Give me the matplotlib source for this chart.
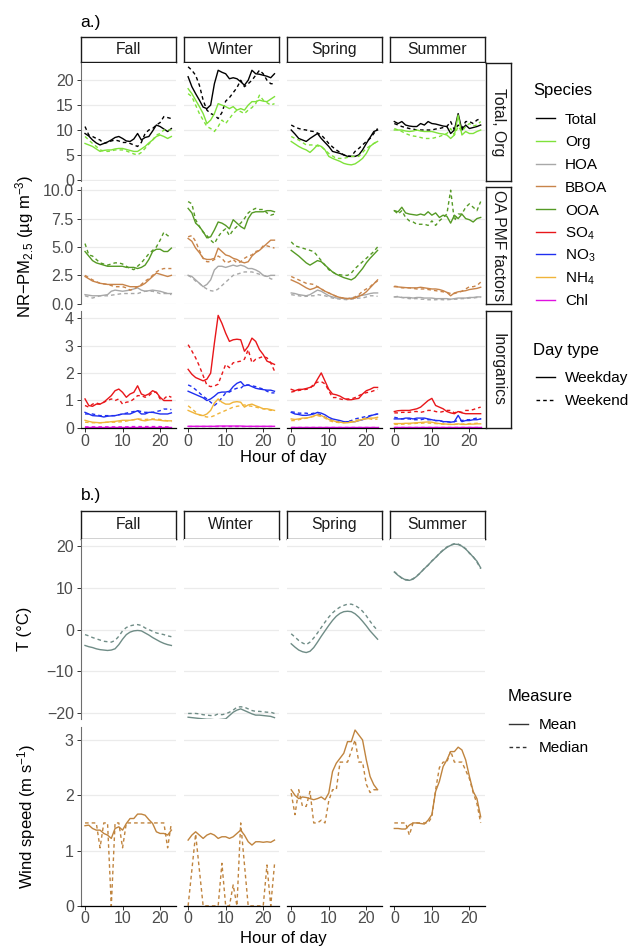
import matplotlib
matplotlib.use("Agg")
import matplotlib.pyplot as plt
from matplotlib.lines import Line2D

plt.rcParams['font.family'] = ['Liberation Sans', 'DejaVu Sans']
plt.rcParams['mathtext.fontset'] = 'custom'
plt.rcParams['mathtext.rm'] = 'Liberation Sans'
plt.rcParams['mathtext.it'] = 'Liberation Sans:italic'
plt.rcParams['mathtext.default'] = 'regular'

# ---------------- data ----------------
hours = list(range(24))
seasons = ['Fall', 'Winter', 'Spring', 'Summer']

# a.) row 1 : Total, Org   (wd = weekday, we = weekend)
fall_total_wd = [9.3, 8.8, 8.0, 7.4, 7.0, 7.3, 7.6, 8.0, 8.5, 8.7, 8.3, 7.8, 7.7, 8.2, 9.3, 8.0, 8.5, 8.7, 9.8, 11.0, 10.7, 10.2, 9.7, 10.3]
fall_total_we = [10.7, 9.0, 8.7, 8.3, 8.0, 7.3, 7.5, 7.8, 8.0, 7.8, 7.5, 7.5, 7.3, 7.0, 6.7, 7.5, 9.3, 10.0, 10.3, 11.0, 11.5, 12.7, 12.5, 12.3]
fall_org_wd = [7.3, 7.0, 6.7, 6.2, 5.7, 5.9, 6.0, 6.0, 6.2, 6.3, 6.3, 6.1, 5.9, 5.7, 5.7, 6.2, 6.7, 7.4, 8.0, 8.7, 9.0, 8.7, 8.3, 8.7]
fall_org_we = [8.7, 8.0, 7.3, 6.7, 6.0, 5.8, 5.7, 5.8, 6.0, 6.0, 6.0, 5.8, 5.5, 5.2, 5.0, 5.5, 6.3, 7.2, 8.0, 9.0, 9.3, 10.0, 10.0, 10.0]
winter_total_wd = [20.7, 18.7, 17.3, 16.0, 14.6, 14.3, 15.0, 19.3, 22.0, 21.6, 21.3, 20.3, 20.5, 20.3, 19.7, 19.0, 20.0, 22.0, 21.3, 21.2, 21.0, 20.8, 20.5, 21.3]
winter_total_we = [22.7, 22.0, 21.0, 19.0, 16.0, 14.0, 13.3, 13.0, 12.3, 13.5, 15.8, 16.5, 17.5, 18.5, 20.0, 18.7, 19.3, 20.0, 21.0, 22.0, 21.3, 20.0, 19.3, 19.3]
winter_org_wd = [18.3, 17.3, 16.0, 14.7, 13.3, 11.3, 12.0, 13.3, 15.3, 15.0, 14.7, 14.3, 14.7, 14.0, 14.3, 14.0, 15.0, 15.7, 15.7, 16.0, 15.8, 15.7, 16.2, 16.7]
winter_org_we = [17.3, 16.7, 15.0, 13.3, 12.0, 10.7, 10.3, 9.7, 10.7, 12.0, 11.3, 12.3, 13.3, 14.0, 13.7, 13.3, 14.0, 14.5, 15.3, 17.0, 16.0, 15.5, 15.0, 15.3]
spring_total_wd = [10.0, 9.2, 8.3, 8.0, 7.7, 8.3, 8.8, 9.3, 8.3, 7.5, 6.7, 5.7, 5.5, 5.3, 5.0, 4.7, 4.7, 4.7, 5.0, 6.0, 7.3, 8.5, 9.7, 10.0]
spring_total_we = [11.0, 10.6, 10.3, 10.1, 10.0, 9.8, 9.7, 9.4, 9.0, 8.2, 7.3, 6.6, 6.0, 5.5, 5.0, 4.8, 4.7, 5.7, 6.3, 7.0, 7.7, 8.3, 9.3, 10.3]
spring_org_wd = [7.7, 7.2, 6.7, 6.3, 6.0, 5.5, 6.2, 7.0, 6.7, 6.0, 4.7, 4.3, 4.0, 3.7, 3.3, 3.1, 3.0, 3.2, 3.7, 4.3, 5.3, 6.7, 7.3, 7.7]
spring_org_we = [8.7, 8.3, 8.0, 7.5, 7.0, 7.0, 7.0, 6.8, 6.7, 6.0, 5.3, 4.8, 4.3, 4.3, 4.3, 4.5, 4.7, 4.7, 4.7, 5.5, 6.3, 6.8, 7.3, 7.7]
summer_total_wd = [11.7, 11.3, 11.7, 11.0, 10.8, 10.7, 10.7, 11.3, 11.0, 11.7, 11.3, 11.2, 11.0, 10.8, 10.7, 9.3, 10.0, 13.3, 10.0, 11.0, 10.3, 10.5, 10.7, 11.0]
summer_total_we = [11.3, 11.0, 10.7, 10.5, 10.3, 10.2, 10.0, 10.0, 10.0, 10.0, 10.0, 10.2, 10.3, 10.5, 10.7, 11.7, 10.0, 11.0, 10.3, 11.7, 11.7, 11.3, 12.0, 12.3]
summer_org_wd = [10.0, 10.0, 10.0, 9.8, 9.7, 9.8, 10.0, 9.8, 9.7, 9.7, 9.7, 9.5, 9.3, 9.2, 9.0, 8.3, 9.0, 13.0, 9.0, 9.7, 9.3, 9.3, 9.7, 10.0]
summer_org_we = [10.3, 10.0, 9.7, 9.3, 9.0, 8.8, 8.7, 8.5, 8.3, 8.3, 8.3, 8.5, 8.7, 9.0, 9.3, 10.3, 9.0, 10.7, 9.7, 10.7, 11.3, 10.8, 11.0, 11.7]

# a.) row 2 : OA PMF factors
fall_hoa_wd = [0.8, 0.75, 0.7, 0.7, 0.7, 0.75, 0.8, 1.1, 1.2, 1.15, 1.1, 1.15, 1.2, 1.3, 1.4, 1.2, 1.1, 1.15, 1.2, 1.15, 1.1, 1.0, 0.9, 0.9]
fall_hoa_we = [0.7, 0.6, 0.5, 0.6, 0.7, 0.7, 0.7, 0.75, 0.8, 0.85, 0.9, 0.9, 0.9, 0.9, 0.9, 1.0, 1.1, 1.1, 1.1, 1.0, 0.9, 0.9, 0.9, 0.8]
fall_bboa_wd = [2.4, 2.2, 2.0, 1.9, 1.8, 1.75, 1.7, 1.7, 1.7, 1.7, 1.7, 1.6, 1.5, 1.5, 1.5, 1.6, 1.8, 2.1, 2.4, 2.7, 2.6, 2.5, 2.4, 2.5]
fall_bboa_we = [2.5, 2.3, 2.1, 1.95, 1.8, 1.75, 1.7, 1.6, 1.5, 1.5, 1.5, 1.4, 1.2, 1.3, 1.5, 1.7, 2.0, 2.2, 2.5, 2.8, 3.0, 3.1, 3.1, 3.1]
fall_ooa_wd = [4.6, 4.2, 3.8, 3.6, 3.5, 3.4, 3.3, 3.3, 3.3, 3.3, 3.3, 3.2, 3.2, 3.2, 3.1, 3.2, 3.4, 3.9, 4.6, 4.8, 4.8, 4.6, 4.6, 4.9]
fall_ooa_we = [5.3, 4.3, 4.2, 3.9, 3.6, 3.5, 3.4, 3.5, 3.6, 3.6, 3.5, 3.3, 3.1, 3.0, 3.3, 3.6, 4.0, 4.4, 4.7, 5.0, 5.6, 6.3, 6.0, 5.9]
winter_hoa_wd = [2.5, 2.4, 2.1, 1.8, 1.5, 1.7, 2.1, 2.98, 3.3, 3.3, 3.2, 3.3, 3.4, 3.3, 3.4, 3.3, 3.1, 3.1, 2.98, 2.8, 2.5, 2.4, 2.5, 2.5]
winter_hoa_we = [2.5, 2.3, 2.0, 1.8, 1.5, 1.3, 1.15, 1.1, 1.3, 1.6, 1.9, 2.2, 2.5, 2.6, 2.7, 2.8, 2.8, 2.8, 2.7, 2.6, 2.5, 2.4, 2.2, 2.1]
winter_bboa_wd = [5.75, 5.5, 4.9, 4.5, 4.0, 3.9, 3.9, 4.0, 4.9, 4.6, 4.3, 4.2, 4.0, 3.9, 3.7, 3.6, 3.7, 4.2, 4.5, 4.7, 5.0, 5.3, 5.6, 5.6]
winter_bboa_we = [5.9, 6.0, 5.5, 4.7, 4.0, 3.7, 3.7, 3.9, 4.2, 4.0, 3.6, 3.7, 3.9, 3.6, 3.7, 4.0, 4.2, 4.3, 4.6, 4.7, 5.1, 5.1, 5.0, 4.9]
winter_ooa_wd = [8.4, 8.0, 7.1, 6.8, 6.35, 5.8, 5.9, 6.5, 7.2, 7.1, 6.9, 6.6, 7.4, 7.1, 6.8, 6.6, 7.5, 8.0, 8.1, 8.1, 8.1, 8.2, 8.2, 8.1]
winter_ooa_we = [9.0, 8.8, 7.4, 6.8, 6.3, 6.0, 5.6, 5.3, 5.9, 6.35, 6.6, 6.0, 6.5, 6.8, 7.1, 7.5, 8.0, 8.25, 8.4, 8.3, 8.3, 8.0, 7.8, 7.9]
spring_hoa_wd = [0.95, 0.9, 0.8, 0.75, 0.7, 0.8, 1.0, 1.2, 1.1, 0.9, 0.7, 0.6, 0.5, 0.5, 0.45, 0.45, 0.5, 0.55, 0.7, 0.75, 0.8, 0.9, 0.95, 0.95]
spring_hoa_we = [0.8, 0.75, 0.7, 0.65, 0.65, 0.7, 0.7, 0.8, 0.75, 0.7, 0.6, 0.5, 0.45, 0.4, 0.38, 0.35, 0.4, 0.45, 0.5, 0.5, 0.6, 0.7, 0.7, 0.65]
spring_bboa_wd = [2.1, 1.95, 1.8, 1.6, 1.4, 1.25, 1.35, 1.5, 1.3, 1.1, 0.95, 0.8, 0.65, 0.55, 0.5, 0.45, 0.45, 0.5, 0.65, 0.8, 1.05, 1.4, 1.75, 2.1]
spring_bboa_we = [2.4, 2.25, 2.1, 1.95, 1.8, 1.75, 1.7, 1.5, 1.3, 1.1, 0.95, 0.8, 0.65, 0.55, 0.5, 0.45, 0.5, 0.6, 0.8, 1.1, 1.3, 1.5, 1.8, 2.0]
spring_ooa_wd = [4.7, 4.45, 4.2, 3.9, 3.6, 3.4, 3.6, 3.8, 3.7, 3.4, 3.1, 2.8, 2.6, 2.45, 2.3, 2.2, 2.1, 2.3, 2.7, 3.1, 3.6, 4.0, 4.35, 4.7]
spring_ooa_we = [5.45, 5.1, 5.0, 4.9, 4.8, 4.7, 4.6, 4.2, 3.8, 3.4, 3.0, 2.8, 2.6, 2.55, 2.5, 2.5, 2.7, 3.1, 3.4, 3.7, 4.0, 4.3, 4.6, 5.0]
summer_hoa_wd = [0.6, 0.6, 0.55, 0.55, 0.55, 0.5, 0.55, 0.55, 0.5, 0.5, 0.5, 0.45, 0.45, 0.45, 0.45, 0.4, 0.45, 0.5, 0.5, 0.5, 0.55, 0.55, 0.6, 0.6]
summer_hoa_we = [0.6, 0.65, 0.55, 0.5, 0.45, 0.45, 0.45, 0.4, 0.4, 0.35, 0.35, 0.35, 0.38, 0.35, 0.35, 0.38, 0.4, 0.4, 0.45, 0.45, 0.5, 0.5, 0.55, 0.55]
summer_bboa_wd = [1.5, 1.48, 1.45, 1.42, 1.4, 1.4, 1.4, 1.45, 1.4, 1.35, 1.3, 1.3, 1.25, 1.15, 1.0, 0.7, 0.95, 1.05, 1.1, 1.15, 1.25, 1.3, 1.35, 1.45]
summer_bboa_we = [1.55, 1.5, 1.4, 1.4, 1.4, 1.35, 1.3, 1.3, 1.3, 1.25, 1.2, 1.15, 1.1, 1.05, 1.0, 0.9, 0.9, 1.0, 1.1, 1.3, 1.5, 1.5, 1.6, 1.9]
summer_ooa_wd = [8.2, 8.1, 8.5, 8.0, 7.9, 7.85, 7.8, 7.9, 7.8, 8.1, 7.8, 8.0, 7.6, 7.8, 7.7, 7.1, 7.8, 7.5, 7.9, 7.5, 7.4, 7.2, 7.5, 7.6]
summer_ooa_we = [8.2, 7.9, 8.2, 7.6, 7.3, 7.2, 7.0, 7.0, 7.0, 6.9, 7.3, 6.9, 7.3, 7.6, 7.9, 10.0, 7.3, 7.9, 7.9, 8.5, 8.8, 8.5, 8.2, 9.0]

# a.) row 3 : Inorganics
fall_so4_wd = [1.05, 0.81, 0.78, 0.86, 0.86, 0.93, 1.05, 1.17, 1.35, 1.41, 1.29, 1.11, 1.23, 1.29, 1.53, 1.23, 1.17, 1.23, 1.35, 1.29, 1.11, 0.99, 0.99, 0.99]
fall_so4_we = [0.81, 0.75, 0.86, 0.9, 0.86, 0.93, 0.99, 1.05, 0.99, 1.05, 0.86, 0.93, 0.95, 1.05, 1.17, 1.17, 1.11, 1.17, 1.29, 1.29, 1.05, 1.05, 1.17, 1.11]
fall_no3_wd = [0.56, 0.5, 0.44, 0.43, 0.42, 0.39, 0.42, 0.43, 0.44, 0.47, 0.5, 0.5, 0.5, 0.56, 0.62, 0.5, 0.5, 0.56, 0.56, 0.53, 0.5, 0.5, 0.5, 0.54]
fall_no3_we = [0.5, 0.5, 0.5, 0.47, 0.44, 0.44, 0.44, 0.44, 0.44, 0.47, 0.5, 0.53, 0.56, 0.59, 0.62, 0.59, 0.56, 0.56, 0.56, 0.59, 0.62, 0.68, 0.68, 0.66]
fall_nh4_wd = [0.27, 0.23, 0.2, 0.19, 0.18, 0.19, 0.2, 0.22, 0.23, 0.25, 0.27, 0.27, 0.27, 0.29, 0.32, 0.27, 0.25, 0.28, 0.3, 0.28, 0.27, 0.25, 0.25, 0.25]
fall_nh4_we = [0.2, 0.19, 0.18, 0.18, 0.18, 0.19, 0.2, 0.2, 0.2, 0.21, 0.22, 0.24, 0.27, 0.29, 0.32, 0.31, 0.3, 0.31, 0.32, 0.31, 0.3, 0.27, 0.25, 0.22]
fall_chl_wd = [0.03, 0.03, 0.03, 0.03, 0.03, 0.03, 0.03, 0.03, 0.03, 0.03, 0.03, 0.03, 0.03, 0.03, 0.03, 0.03, 0.03, 0.03, 0.03, 0.03, 0.03, 0.03, 0.03, 0.03]
fall_chl_we = [0.03, 0.03, 0.03, 0.03, 0.03, 0.03, 0.03, 0.03, 0.03, 0.03, 0.03, 0.03, 0.04, 0.04, 0.04, 0.04, 0.04, 0.04, 0.04, 0.04, 0.04, 0.03, 0.03, 0.03]
winter_so4_wd = [2.13, 1.95, 1.83, 1.77, 1.71, 1.77, 1.99, 3.09, 4.1, 3.81, 3.45, 3.15, 3.21, 3.23, 3.21, 2.79, 2.97, 3.27, 3.15, 2.85, 2.67, 2.43, 2.37, 2.31]
winter_so4_we = [3.03, 2.8, 2.55, 2.25, 1.9, 1.55, 1.5, 1.52, 1.59, 1.95, 2.31, 2.19, 2.37, 2.4, 2.43, 2.5, 2.85, 2.37, 2.5, 2.55, 2.6, 2.55, 2.37, 2.07]
winter_no3_wd = [1.33, 1.27, 1.21, 1.15, 1.09, 0.99, 1.05, 1.15, 1.27, 1.3, 1.3, 1.33, 1.5, 1.62, 1.68, 1.53, 1.56, 1.5, 1.44, 1.41, 1.39, 1.37, 1.37, 1.33]
winter_no3_we = [1.56, 1.5, 1.39, 1.27, 1.15, 1.05, 0.93, 0.81, 0.93, 1.09, 1.27, 1.3, 1.39, 1.44, 1.44, 1.56, 1.56, 1.53, 1.5, 1.45, 1.41, 1.33, 1.27, 1.27]
winter_nh4_wd = [0.63, 0.57, 0.51, 0.47, 0.44, 0.5, 0.63, 0.9, 1.05, 0.93, 0.86, 0.86, 0.93, 0.95, 0.93, 0.75, 0.83, 0.86, 0.8, 0.75, 0.69, 0.69, 0.66, 0.63]
winter_nh4_we = [0.8, 0.69, 0.57, 0.47, 0.42, 0.39, 0.39, 0.44, 0.51, 0.57, 0.63, 0.69, 0.75, 0.78, 0.8, 0.83, 0.8, 0.78, 0.75, 0.72, 0.69, 0.67, 0.63, 0.66]
winter_chl_wd = [0.05, 0.05, 0.05, 0.05, 0.05, 0.05, 0.05, 0.05, 0.06, 0.06, 0.06, 0.06, 0.06, 0.06, 0.06, 0.05, 0.05, 0.05, 0.05, 0.05, 0.05, 0.05, 0.05, 0.05]
winter_chl_we = [0.05, 0.05, 0.05, 0.05, 0.05, 0.05, 0.05, 0.05, 0.05, 0.05, 0.05, 0.05, 0.05, 0.05, 0.05, 0.05, 0.05, 0.05, 0.05, 0.05, 0.05, 0.05, 0.05, 0.05]
spring_so4_wd = [1.4, 1.35, 1.4, 1.4, 1.43, 1.47, 1.53, 1.77, 2.0, 1.7, 1.4, 1.23, 1.2, 1.15, 1.07, 1.02, 1.02, 1.05, 1.07, 1.23, 1.35, 1.4, 1.47, 1.47]
spring_so4_we = [1.3, 1.33, 1.36, 1.38, 1.4, 1.43, 1.6, 1.66, 1.68, 1.6, 1.35, 1.1, 1.1, 1.05, 1.02, 1.05, 1.05, 1.1, 1.17, 1.23, 1.28, 1.3, 1.35, 1.4]
spring_no3_wd = [0.56, 0.5, 0.48, 0.45, 0.45, 0.47, 0.5, 0.56, 0.53, 0.47, 0.38, 0.32, 0.29, 0.26, 0.22, 0.22, 0.22, 0.22, 0.26, 0.29, 0.35, 0.43, 0.47, 0.5]
spring_no3_we = [0.58, 0.56, 0.53, 0.53, 0.53, 0.5, 0.53, 0.5, 0.47, 0.38, 0.32, 0.26, 0.22, 0.2, 0.2, 0.22, 0.26, 0.32, 0.35, 0.38, 0.41, 0.44, 0.47, 0.5]
spring_nh4_wd = [0.32, 0.3, 0.32, 0.35, 0.35, 0.38, 0.43, 0.47, 0.44, 0.38, 0.3, 0.26, 0.22, 0.2, 0.18, 0.18, 0.2, 0.22, 0.26, 0.3, 0.32, 0.35, 0.35, 0.38]
spring_nh4_we = [0.26, 0.26, 0.29, 0.32, 0.35, 0.38, 0.41, 0.44, 0.41, 0.35, 0.26, 0.22, 0.2, 0.18, 0.18, 0.2, 0.22, 0.26, 0.29, 0.32, 0.35, 0.32, 0.29, 0.32]
spring_chl_wd = [0.02, 0.02, 0.02, 0.02, 0.02, 0.02, 0.02, 0.02, 0.02, 0.02, 0.02, 0.02, 0.02, 0.02, 0.02, 0.02, 0.02, 0.02, 0.02, 0.02, 0.02, 0.02, 0.02, 0.02]
spring_chl_we = [0.02, 0.02, 0.02, 0.02, 0.02, 0.02, 0.02, 0.02, 0.02, 0.02, 0.02, 0.02, 0.02, 0.02, 0.02, 0.02, 0.02, 0.02, 0.02, 0.02, 0.02, 0.02, 0.02, 0.02]
summer_so4_wd = [0.59, 0.62, 0.63, 0.63, 0.63, 0.66, 0.69, 0.75, 0.87, 0.99, 1.07, 0.81, 0.75, 0.69, 0.59, 0.54, 0.51, 0.59, 0.54, 0.51, 0.51, 0.51, 0.51, 0.51]
summer_so4_we = [0.54, 0.54, 0.56, 0.56, 0.56, 0.59, 0.59, 0.56, 0.59, 0.63, 0.63, 0.59, 0.56, 0.59, 0.63, 0.63, 0.54, 0.59, 0.56, 0.63, 0.63, 0.66, 0.71, 0.75]
summer_no3_wd = [0.32, 0.32, 0.32, 0.35, 0.35, 0.32, 0.35, 0.35, 0.35, 0.32, 0.29, 0.26, 0.26, 0.22, 0.22, 0.2, 0.22, 0.45, 0.22, 0.26, 0.26, 0.29, 0.29, 0.32]
summer_no3_we = [0.38, 0.35, 0.32, 0.32, 0.32, 0.29, 0.29, 0.29, 0.32, 0.29, 0.29, 0.26, 0.26, 0.22, 0.22, 0.2, 0.22, 0.26, 0.26, 0.29, 0.29, 0.32, 0.35, 0.32]
summer_nh4_wd = [0.15, 0.15, 0.15, 0.16, 0.16, 0.17, 0.18, 0.19, 0.2, 0.21, 0.2, 0.17, 0.15, 0.14, 0.13, 0.12, 0.12, 0.14, 0.12, 0.12, 0.13, 0.13, 0.14, 0.14]
summer_nh4_we = [0.12, 0.12, 0.13, 0.13, 0.14, 0.15, 0.16, 0.16, 0.17, 0.17, 0.16, 0.15, 0.14, 0.13, 0.12, 0.12, 0.12, 0.13, 0.13, 0.14, 0.15, 0.15, 0.16, 0.17]
summer_chl_wd = [0.01, 0.01, 0.01, 0.01, 0.01, 0.01, 0.01, 0.01, 0.01, 0.01, 0.01, 0.01, 0.01, 0.01, 0.01, 0.01, 0.01, 0.01, 0.01, 0.01, 0.01, 0.01, 0.01, 0.01]
summer_chl_we = [0.01, 0.01, 0.01, 0.01, 0.01, 0.01, 0.01, 0.01, 0.01, 0.01, 0.01, 0.01, 0.01, 0.01, 0.01, 0.01, 0.01, 0.01, 0.01, 0.01, 0.01, 0.01, 0.01, 0.01]

# b.) temperature (degC) and wind speed (m/s), mean and median
fall_t_mean = [-3.8, -4.1, -4.3, -4.6, -4.8, -4.9, -5.0, -4.9, -4.6, -3.6, -2.3, -1.2, -0.6, -0.3, -0.2, -0.3, -0.8, -1.3, -1.9, -2.4, -2.9, -3.3, -3.6, -3.8]
fall_t_median = [-1.2, -1.5, -1.9, -2.2, -2.5, -2.8, -2.9, -3.0, -2.6, -1.6, -0.3, 0.5, 0.9, 1.1, 1.2, 1.0, 0.4, 0.0, -0.4, -0.8, -1.0, -1.2, -1.5, -1.7]
winter_t_mean = [-21.0, -21.1, -21.2, -21.3, -21.4, -21.5, -21.5, -21.6, -21.6, -21.5, -21.4, -20.6, -19.8, -19.3, -19.0, -19.4, -19.8, -20.2, -20.5, -20.5, -20.6, -20.7, -20.8, -21.1]
winter_t_median = [-20.1, -20.1, -20.1, -20.2, -20.4, -20.5, -20.6, -20.6, -20.2, -20.4, -20.2, -19.8, -19.3, -18.6, -18.5, -18.6, -19.0, -19.4, -19.6, -19.6, -19.7, -19.8, -19.8, -20.1]
spring_t_mean = [-3.4, -4.2, -4.9, -5.3, -5.5, -5.2, -4.3, -3.0, -1.6, -0.3, 1.0, 2.2, 3.2, 3.9, 4.3, 4.4, 4.3, 3.8, 3.0, 2.0, 0.9, -0.3, -1.3, -2.3]
spring_t_median = [-1.0, -1.8, -2.6, -3.2, -3.6, -3.0, -2.0, -0.8, 0.5, 1.8, 3.0, 4.0, 4.8, 5.4, 5.8, 6.1, 6.1, 5.8, 5.2, 4.4, 3.3, 2.0, 0.8, -0.2]
summer_t_mean = [13.8, 13.0, 12.4, 11.9, 11.8, 12.1, 12.8, 13.7, 14.6, 15.5, 16.4, 17.3, 18.2, 19.0, 19.7, 20.2, 20.5, 20.4, 20.0, 19.3, 18.4, 17.4, 16.4, 14.8]
summer_t_median = [13.9, 13.1, 12.3, 12.0, 11.9, 12.2, 12.9, 13.6, 14.7, 15.4, 16.5, 17.2, 18.3, 19.1, 19.8, 20.3, 20.6, 20.5, 20.1, 19.4, 18.3, 17.5, 16.2, 14.6]

fall_ws_mean = [1.45, 1.46, 1.4, 1.37, 1.37, 1.31, 1.28, 1.22, 1.4, 1.43, 1.37, 1.49, 1.58, 1.58, 1.66, 1.66, 1.64, 1.56, 1.49, 1.34, 1.31, 1.31, 1.28, 1.37]
fall_ws_median = [1.5, 1.5, 1.5, 1.5, 1.05, 1.5, 1.5, 0.0, 1.5, 1.5, 1.05, 1.5, 1.5, 1.5, 1.5, 1.5, 1.5, 1.5, 1.5, 1.5, 1.5, 1.5, 1.05, 1.5]
winter_ws_mean = [1.19, 1.28, 1.34, 1.28, 1.22, 1.28, 1.31, 1.28, 1.22, 1.25, 1.25, 1.22, 1.25, 1.31, 1.37, 1.28, 1.16, 1.1, 1.16, 1.16, 1.15, 1.16, 1.15, 1.19]
winter_ws_median = [0.0, 0.65, 1.3, 0.65, 0.0, 0.0, 0.0, 0.0, 0.0, 0.77, 0.0, 0.0, 0.38, 0.0, 1.5, 0.75, 0.0, 0.0, 0.0, 0.0, 0.0, 0.74, 0.0, 0.75]
spring_ws_mean = [2.1, 2.0, 1.94, 1.97, 1.96, 1.94, 1.92, 1.94, 1.97, 1.92, 2.04, 2.43, 2.58, 2.67, 2.76, 2.97, 2.97, 3.18, 3.09, 3.0, 2.64, 2.34, 2.19, 2.1]
spring_ws_median = [2.04, 1.65, 2.1, 1.8, 1.8, 2.07, 1.5, 1.5, 1.55, 1.5, 1.9, 2.1, 2.1, 2.6, 2.6, 2.6, 2.8, 3.0, 2.6, 2.6, 2.2, 2.05, 2.1, 2.1]
summer_ws_mean = [1.4, 1.4, 1.39, 1.39, 1.46, 1.5, 1.5, 1.49, 1.48, 1.55, 1.65, 2.07, 2.25, 2.52, 2.64, 2.79, 2.79, 2.87, 2.82, 2.64, 2.34, 2.07, 1.94, 1.61]
summer_ws_median = [1.5, 1.5, 1.5, 1.5, 1.28, 1.5, 1.5, 1.5, 1.5, 1.5, 1.61, 2.1, 2.5, 2.6, 2.6, 2.8, 2.6, 2.6, 2.6, 2.45, 2.3, 2.05, 1.85, 1.5]

species = ['Total', 'Org', 'HOA', 'BBOA', 'OOA', 'SO4', 'NO3', 'NH4', 'Chl']
species_labels = ['Total', 'Org', 'HOA', 'BBOA', 'OOA', 'SO$_4$', 'NO$_3$', 'NH$_4$', 'Chl']
species_colors = ['#000000', '#7FE23A', '#A8A8A8', '#C8844A', '#559A25', '#E8161A', '#1F2FF0', '#F0B43A', '#E010E0']
row_species = [['Total', 'Org'], ['HOA', 'BBOA', 'OOA'], ['SO4', 'NO3', 'NH4', 'Chl']]
row_names = ['Total, Org', 'OA PMF factors', 'Inorganics']
row_ticks = [[0, 5, 10, 15, 20], [0, 2.5, 5, 7.5, 10], [0, 1, 2, 3, 4]]
row_ticklabels = [['0', '5', '10', '15', '20'], ['0.0', '2.5', '5.0', '7.5', '10.0'], ['0', '1', '2', '3', '4']]
row_ylim = [(-0.2, 23.4), (-0.05, 10.3), (-0.03, 4.26)]
daytype_labels = ['Weekday', 'Weekend']
measure_labels = ['Mean', 'Median']

b_ticks = [[-20, -10, 0, 10, 20], [0, 1, 2, 3]]
b_ylim = [(-21.5, 21.6), (0, 3.24)]
t_color = '#6F8C86'
ws_color = '#C0843E'

# lookup built from the lists above
g = globals()
sp_data = {(s, sp): (g[f'{s.lower()}_{sp.lower()}_wd'], g[f'{s.lower()}_{sp.lower()}_we'])
           for s in seasons for sp in species}
met_data = {(s, v): (g[f'{s.lower()}_{v}_mean'], g[f'{s.lower()}_{v}_median'])
            for s in seasons for v in ['t', 'ws']}

# ---------------- layout ----------------
W, H = 633, 947
fig = plt.figure(figsize=(W / 100, H / 100), dpi=100)

def px_axes(left, top, width, height):
    return fig.add_axes([left / W, 1 - (top + height) / H, width / W, height / H])

col_left = [80.7, 183.8, 286.9, 390.0]
col_w = 95
TICK_FS = 11.5
LEG_FS = 11
DASH = (2.6, 2.2)


def style_panel(ax, first_col, bottom_row, ticks, ticklabels, ylim):
    ax.set_xlim(-1.15, 24.15)
    ax.set_ylim(*ylim)
    ax.set_yticks(ticks)
    ax.set_xticks([0, 10, 20])
    if first_col:
        ax.set_yticklabels(ticklabels)
    ax.grid(axis='y', color='#EBEBEB', lw=0.9)
    ax.set_axisbelow(True)
    for s in ['top', 'right']:
        ax.spines[s].set_visible(False)
    ax.spines['left'].set_visible(first_col)
    ax.spines['left'].set_color('#6E6E6E')
    ax.spines['left'].set_linewidth(0.8)
    ax.spines['bottom'].set_visible(bottom_row)
    ax.spines['bottom'].set_color('#000000')
    ax.spines['bottom'].set_linewidth(0.9)
    ax.tick_params(axis='y', length=3 if first_col else 0, width=0.7, color='#333333',
                   labelleft=first_col, labelsize=TICK_FS, labelcolor='#4D4D4D', pad=2)
    ax.tick_params(axis='x', length=3 if bottom_row else 0, width=0.7, color='#333333',
                   labelbottom=bottom_row, labelsize=TICK_FS, labelcolor='#4D4D4D', pad=1)


def strip(left, top, width, height, text, rotation=0):
    sa = px_axes(left, top, width, height)
    sa.set_xticks([])
    sa.set_yticks([])
    for s in sa.spines.values():
        s.set_color('#1A1A1A')
        s.set_linewidth(1.0)
    sa.text(0.5, 0.5, text, ha='center', va='center', rotation=rotation,
            fontsize=11.3, color='#1A1A1A', transform=sa.transAxes)


def legend_block(x_title, y_title, title, x_key, x_text, y_first, labels, colors, dashed, step=22.7):
    # ggplot-like legend: left-aligned title, short line keys, labels
    fig.text(x_title / W, 1 - y_title / H, title, fontsize=12, ha='left', va='center')
    cap = 0.716 * LEG_FS * 100 / 72
    for i, lab in enumerate(labels):
        y = y_first + i * step
        kw = {'dashes': DASH} if dashed[i] else {}
        fig.add_artist(Line2D([x_key / W, (x_key + 18.5) / W], [1 - y / H, 1 - y / H],
                              color=colors[i], lw=1.0, transform=fig.transFigure, **kw))
        fig.text(x_text / W, 1 - (y + cap / 2) / H, lab, fontsize=LEG_FS, ha='left', va='baseline')


# ---------- a.) ----------
fig.text(80.7 / W, 1 - 22 / H, 'a.)', fontsize=12.5, va='center', ha='left')
a_row_top = [63.3, 186.8, 311.0]
a_row_h = 117.5
for j, s in enumerate(seasons):
    strip(col_left[j], 37.3, col_w, 25, s)
for r in range(3):
    for j, s in enumerate(seasons):
        ax = px_axes(col_left[j], a_row_top[r], col_w, a_row_h)
        style_panel(ax, j == 0, r == 2, row_ticks[r], row_ticklabels[r], row_ylim[r])
        for sp in row_species[r]:
            col = species_colors[species.index(sp)]
            wd, we = sp_data[(s, sp)]
            ax.plot(hours, wd, color=col, lw=1.0, solid_joinstyle='round')
            ax.plot(hours, we, color=col, lw=1.0, dashes=DASH)
    strip(485.6, a_row_top[r], 25.5, a_row_h, row_names[r], rotation=270)

fig.text(25 / W, 1 - 246 / H, 'NR\u2212PM$_{2.5}$ (\u00b5g m$^{-3}$)', rotation=90,
         ha='center', va='center', fontsize=12)
fig.text(283 / W, 1 - 457 / H, 'Hour of day', ha='center', va='center', fontsize=12)

legend_block(533, 90, 'Species', 536, 565, 118.3, species_labels, species_colors, [False] * 9)
legend_block(533, 350, 'Day type', 536, 565, 377, daytype_labels, ['black', 'black'], [False, True])

# ---------- b.) ----------
fig.text(80.7 / W, 1 - 495 / H, 'b.)', fontsize=12.5, va='center', ha='left')
for j, s in enumerate(seasons):
    strip(col_left[j], 510.5, col_w, 28.5, s)
b_row_top = [539.5, 726.7]
b_row_h = [179.8, 179.2]
for r, var in enumerate(['t', 'ws']):
    col = t_color if var == 't' else ws_color
    labels = [str(t) if t >= 0 else '\u2212' + str(-t) for t in b_ticks[r]]
    for j, s in enumerate(seasons):
        ax = px_axes(col_left[j], b_row_top[r], col_w, b_row_h[r])
        style_panel(ax, j == 0, r == 1, b_ticks[r], labels, b_ylim[r])
        mean, median = met_data[(s, var)]
        ax.plot(hours, mean, color=col, lw=1.0)
        ax.plot(hours, median, color=col, lw=1.0, dashes=DASH)

fig.text(25 / W, 1 - 629 / H, 'T (\u00b0C)', rotation=90, ha='center', va='center', fontsize=12)
fig.text(27 / W, 1 - 816 / H, 'Wind speed (m s$^{-1}$)', rotation=90, ha='center', va='center', fontsize=12)
fig.text(283 / W, 1 - 938 / H, 'Hour of day', ha='center', va='center', fontsize=12)

legend_block(508, 696, 'Measure', 509, 539, 724, measure_labels, ['#333333', '#333333'], [False, True], step=23)

fig.savefig('out.png', dpi=100)
